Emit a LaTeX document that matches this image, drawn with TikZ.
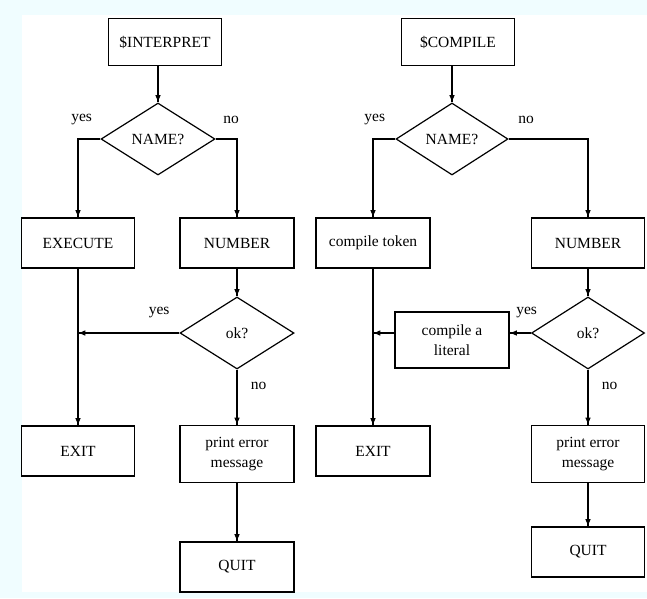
\documentclass[tikz,border=0pt]{standalone}
\usepackage{fontspec}
\setmainfont{Liberation Serif}
\usetikzlibrary{positioning, calc, shapes.geometric, arrows.meta, decorations.markings}
\definecolor{paper}{RGB}{240,253,255}
\tikzstyle{Arrow} = [
%Filled tip at the end of the line:
very thick,
decoration={
markings,
mark=at position 1 with {
\arrow[line width = 1.5pt]{latex}
}
},
preaction = {decorate}
]

\begin{document}
\begin{tikzpicture}[x=1pt, y=-1pt,
				every node/.style = {font=\fontsize{15.5}{20}\selectfont},
				process/.style = {rectangle, very thick, draw, text centered, minimum width = 113pt, minimum height = 50pt, inner sep = 2pt},
				entry/.style = {process, minimum height = 47pt},
				twoline/.style = {process, align = center, minimum height = 57pt},
				decision/.style = {diamond, very thick, draw, text centered, aspect = 1.6, inner sep = 0pt, minimum width = 114pt, minimum height = 72pt},
			]
			\fill[paper](0,0) rectangle (647,598);
			\fill[white](22,15) rectangle (647,592);
			\useasboundingbox (0,0) rectangle (647,598);

			% interpreter
			\node[entry](interp) at (165,42){\$INTERPRET};
			\node[decision](nameA) at (158,139){NAME?};
			\node[process](exec) at (78,243){EXECUTE};
			\node[process, minimum width = 114pt](numA) at (237,243){NUMBER};
			\node[decision](okA) at (237,333){ok?};
			\node[process](exitA) at (78,451){EXIT};
			\node[twoline, minimum width = 114pt](errA) at (237,454){print error\\message};
			\node[process, minimum width = 114pt](quitA) at (237,567){QUIT};

			% compiler
			\node[entry](comp) at (458,42){\$COMPILE};
			\node[decision, minimum width = 112pt](nameB) at (452,139){NAME?};
			\node[process, minimum width = 114pt](tok) at (373,243){compile token};
			\node[process](numB) at (588,243){NUMBER};
			\node[decision, minimum width = 113pt](okB) at (588,333){ok?};
			\node[twoline, minimum width = 114pt, minimum height = 56pt](lit) at (452,340){compile a\\literal};
			\node[process, minimum width = 114pt](exitB) at (373,451){EXIT};
			\node[twoline](errB) at (588,454){print error\\message};
			\node[process](quitB) at (588,552){QUIT};

			\draw[Arrow](nameA.north |- interp.south)--(nameA.north);
			\draw[Arrow](nameA.west)-|node[pos=0.42, above=10pt] {yes}(exec.north);
			\draw[Arrow](nameA.east)-|node[pos=0.36, above=11.5pt] {no}(numA.north);
			\draw[Arrow](numA)--(okA);
			\draw[Arrow](okA.west)--node[pos=0.2, above=11pt] {yes}(okA.west -| exec.south);
			\draw[Arrow](okA)--node[pos=0.3, right=10pt] {no}(errA);
			\draw[Arrow](exec)--(exitA);
			\draw[Arrow](errA)--(quitA);

			\draw[Arrow](nameB.north |- comp.south)--(nameB.north);
			\draw[Arrow](nameB.west)-|node[pos=0.46, above=10pt] {yes}(tok.north);
			\draw[Arrow](nameB.east)-|node[pos=0.11, above=11.5pt] {no}(numB.north);
			\draw[Arrow](numB)--(okB);
			\draw[Arrow](okB.west)--node[pos=0.2, above=11pt] {yes}(okB.west -| lit.east);
			\draw[Arrow](lit.west |- okB.west)--(okB.west -| tok.south);
			\draw[Arrow](okB)--node[pos=0.3, right=10pt] {no}(errB);
			\draw[Arrow](tok)--(exitB);
			\draw[Arrow](errB)--(quitB);

		\end{tikzpicture}
\end{document}
